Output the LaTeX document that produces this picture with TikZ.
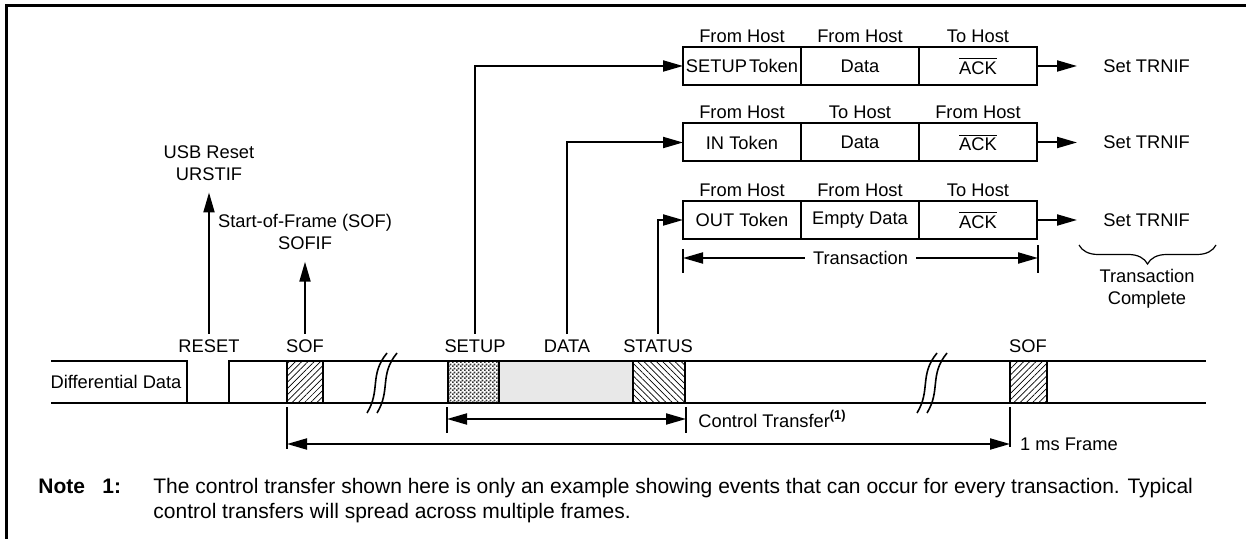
\documentclass[tikz,border=0pt]{standalone}
\usepackage{fontspec}
\setmainfont{Liberation Sans}
\usetikzlibrary{positioning,arrows.meta,patterns,patterns.meta,decorations.pathreplacing}

\tikzdeclarepattern{
  name=finecheck,
  bounding box={(0pt,0pt) and (2pt,2pt)},
  tile size={(2pt,2pt)},
  code={
    \fill (0pt,0pt) rectangle (1pt,1pt);
    \fill (1pt,1pt) rectangle (2pt,2pt);
  }
}

\begin{document}
\begin{tikzpicture}[x=0.5pt,y=-0.5pt,
  every node/.append style={font=\fontsize{9.15}{11}\selectfont},
  sig/.style={line width=1.1pt},
  hatchne/.style={pattern={Lines[angle=45,distance=2.2pt,line width=0.35pt]}},
  hatchnw/.style={pattern={Lines[angle=-45,distance=2.2pt,line width=0.35pt]}},
  arr/.style={line width=1pt,-{Triangle[length=10pt,width=5.5pt]}},
  dimarr/.style={line width=1pt,{Triangle[length=10pt,width=5.5pt]}-{Triangle[length=10pt,width=5.5pt]}},
  tick/.style={line width=1pt},
  cell/.style={draw,line width=1pt,minimum width=59pt,minimum height=19pt,inner sep=0pt,outer sep=0pt},
  dir/.style={inner sep=0pt},
  event/.style={anchor=base,inner sep=2.5pt},
  flag/.style={align=center,inner sep=5.8pt},
  trn/.style={anchor=west,inner xsep=13pt},
  notefont/.style={font=\fontsize{10.5}{12.5}\selectfont}
]
  \useasboundingbox (0,0) rectangle (1246,539);
  \draw[line width=1.5pt] (1246,6) -- (6,6) -- (6,539);

  % bus line
  \draw[sig] (51,361) -- (187,361) -- (187,403);
  \draw[sig] (229,403) -- (229,361) -- (1206,361);
  \draw[sig] (51,403) -- (1206,403);
  \node (difflbl) at (116,382) {Differential Data};
  \draw[sig,hatchne] (287,361) rectangle (323,403);
  \draw[sig,pattern=finecheck,pattern color=black!80] (448,361) rectangle (499,403);
  \draw[sig,fill=gray!18] (499,361) rectangle (633,403);
  \draw[sig,hatchnw] (633,361) rectangle (685,403);
  \draw[sig,hatchne] (1010,361) rectangle (1047,403);
  \foreach \bx in {367,917} {
    \draw[line width=0.8pt] (\bx,413) .. controls (\bx+14,390) and (\bx+2,375) .. (\bx+20,353);
    \draw[line width=0.8pt] (\bx+10,413) .. controls (\bx+24,390) and (\bx+12,375) .. (\bx+30,353);
  }

  % events on the bus
  \node[event] (evreset) at (209,352) {RESET};
  \node[event] (evsof) at (305,352) {SOF};
  \node[event] (evsetup) at (475,352) {SETUP};
  \node[event] (evdata) at (567,352) {DATA};
  \node[event] (evstatus) at (658,352) {STATUS};
  \node[event] (evsof2) at (1028,352) {SOF};

  \node[flag] (usbrst) at (209,163) {USB Reset\\URSTIF};
  \node[flag] (sofif) at (305,232) {Start-of-Frame (SOF)\\SOFIF};
  \draw[arr] (evreset.north) -- (usbrst.south);
  \draw[arr] (evsof.north) -- (sofif.south);

  % transactions
  \node[cell] (setuptok) at (742,66) {SETUP\kern0.12em Token};
  \node[cell,right=0pt of setuptok] (setupdat) {Data};
  \node[cell,right=0pt of setupdat] (setupack) {$\overline{\mbox{ACK}}$};
  \node[cell] (intok) at (742,142.5) {IN Token};
  \node[cell,right=0pt of intok] (indat) {Data};
  \node[cell,right=0pt of indat] (inack) {$\overline{\mbox{ACK}}$};
  \node[cell] (outtok) at (742,220) {OUT Token};
  \node[cell,right=0pt of outtok] (outdat) {Empty Data};
  \node[cell,right=0pt of outdat] (outack) {$\overline{\mbox{ACK}}$};

  \node[dir,above=2.2pt of setuptok] (setupdir1) {From Host};
  \node[dir,above=2.2pt of setupdat] (setupdir2) {From Host};
  \node[dir,above=2.2pt of setupack] (setupdir3) {To Host};
  \node[dir,above=2.2pt of intok] (indir1) {From Host};
  \node[dir,above=2.2pt of indat] (indir2) {To Host};
  \node[dir,above=2.2pt of inack] (indir3) {From Host};
  \node[dir,above=2.2pt of outtok] (outdir1) {From Host};
  \node[dir,above=2.2pt of outdat] (outdir2) {From Host};
  \node[dir,above=2.2pt of outack] (outdir3) {To Host};

  \draw[arr] (evsetup.north) |- (setuptok.west);
  \draw[arr] (evdata.north) |- (intok.west);
  \draw[arr] (evstatus.north) |- (outtok.west);

  \node[trn] (trnsetup) at (1077,66) {Set TRNIF};
  \node[trn] (trnin) at (1077,142.5) {Set TRNIF};
  \node[trn] (trnout) at (1077,220) {Set TRNIF};
  \draw[arr] (setupack.east) -- (trnsetup.west);
  \draw[arr] (inack.east) -- (trnin.west);
  \draw[arr] (outack.east) -- (trnout.west);

  \coordinate (brL) at (1079,245);
  \coordinate (brR) at (1216,245);
  \draw[line width=0.6pt,decorate,decoration={brace,mirror,amplitude=9.5pt}] (brL) -- (brR);
  \node[align=center] (trdone) at (1147,289) {Transaction\\Complete};

  % spans
  \coordinate (trL) at (683,258);
  \coordinate (trR) at (1038,258);
  \draw[tick] (683,249) -- (683,273);
  \draw[tick] (1038,245) -- (1038,273);
  \draw[dimarr] (trL) -- (trR) node[midway,fill=white,inner xsep=4pt] (trlbl) {Transaction};

  \coordinate (ctL) at (447,419);
  \coordinate (ctR) at (686,419);
  \draw[tick] (447,407) -- (447,433);
  \draw[tick] (686,407) -- (686,433);
  \draw[dimarr] (ctL) -- (ctR);
  \node[anchor=west,inner xsep=6pt] (ctlbl) at (ctR) {Control Transfer\textsuperscript{\bfseries(1)}};

  \coordinate (fmL) at (287,444);
  \coordinate (fmR) at (1010,444);
  \draw[tick] (287,407) -- (287,449);
  \draw[tick] (1010,407) -- (1010,447);
  \draw[dimarr] (fmL) -- (fmR);
  \node[anchor=west] (fmlbl) at (1013,444) {1 ms Frame};

  % note
  \node[notefont,anchor=base west,inner sep=0pt] (notehd) at (38,493) {\bfseries Note};
  \node[notefont,anchor=base west,inner sep=0pt] (notenum) at (102,493) {\bfseries 1:};
  \node[notefont,anchor=north west,inner sep=0pt,align=left] (notetxt) at (153,478) {The control transfer shown here is only an example showing events that can occur for every transaction. Typical\\control transfers will spread across multiple frames.};
\end{tikzpicture}
\end{document}
